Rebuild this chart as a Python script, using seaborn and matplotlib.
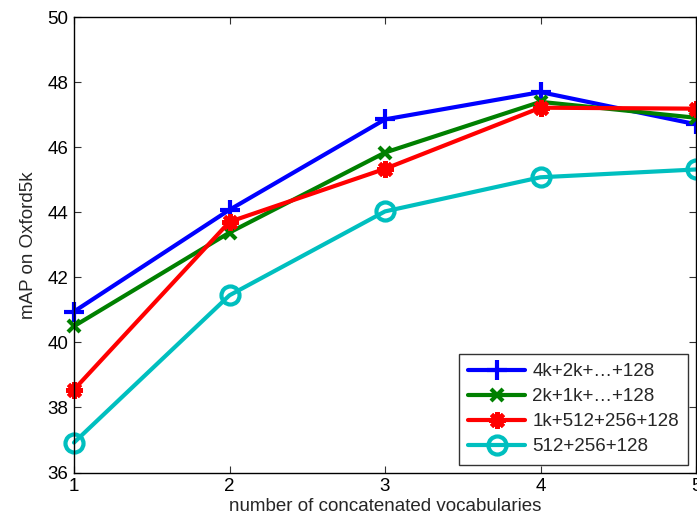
import matplotlib
matplotlib.use("Agg")
import matplotlib.pyplot as plt
import seaborn as sns
import pandas as pd

x_values = [1, 2, 3, 4, 5]
series_names = ["4k+2k+\u2026+128", "2k+1k+\u2026+128", "1k+512+256+128", "512+256+128"]
s_4k = [40.95, 44.08, 46.86, 47.70, 46.71]
s_2k = [40.50, 43.38, 45.84, 47.40, 46.91]
s_1k = [38.55, 43.71, 45.34, 47.22, 47.19]
s_512 = [36.92, 41.45, 44.03, 45.08, 45.32]
yticks = [36, 38, 40, 42, 44, 46, 48, 50]

rows = []
for name, vals in zip(series_names, [s_4k, s_2k, s_1k, s_512]):
    for xv, yv in zip(x_values, vals):
        rows.append({"n": xv, "mAP": yv, "series": name})
df = pd.DataFrame(rows)

sns.set_style("ticks")
plt.rcParams['font.family'] = ['Liberation Sans', 'DejaVu Sans']
plt.rcParams['xtick.direction'] = 'in'
plt.rcParams['ytick.direction'] = 'in'

FS = 13.5
fig = plt.figure(figsize=(6.97, 5.21), dpi=100)
ax = fig.add_axes([74/697, 1-472.5/521, (696-74)/697, (472.5-17.3)/521])

colors = [(0, 0, 1), (0, 0.5, 0), (1, 0, 0), (0, 0.75, 0.75)]
markers = ["+", "x", (8, 2, 0), "o"]
msizes = [14, 9, 12, 13]
for name, c, m, ms in zip(series_names, colors, markers, msizes):
    sub = df[df["series"] == name]
    kw = dict(markerfacecolor="none") if m == "o" else {}
    sns.lineplot(data=sub, x="n", y="mAP", ax=ax, color=c, marker=m, markersize=ms,
                 markeredgewidth=3, markeredgecolor=c, linewidth=3, label=name,
                 clip_on=False, **kw)

ax.set_xlim(1, 5)
ax.set_ylim(36, 50)
ax.set_xticks(x_values)
ax.set_yticks(yticks)
ax.tick_params(axis='both', labelsize=FS, length=5, width=0.8, colors='#333333',
               labelcolor='black', top=True, right=True, pad=4.3)
for sp in ax.spines.values():
    sp.set_visible(True)
    sp.set_linewidth(1.0)
    sp.set_color('black')
ax.set_xlabel("number of concatenated vocabularies", fontsize=FS, labelpad=1.5)
ax.set_ylabel("mAP on Oxford5k", fontsize=FS, labelpad=7)

leg = ax.legend(loc="lower right", fontsize=FS, frameon=True, fancybox=False,
                edgecolor='black', handlelength=3.0, borderaxespad=0.42,
                labelspacing=0.42, handletextpad=0.4, borderpad=0.5)
leg.get_frame().set_linewidth(1.0)

fig.savefig("out.png", dpi=100)
